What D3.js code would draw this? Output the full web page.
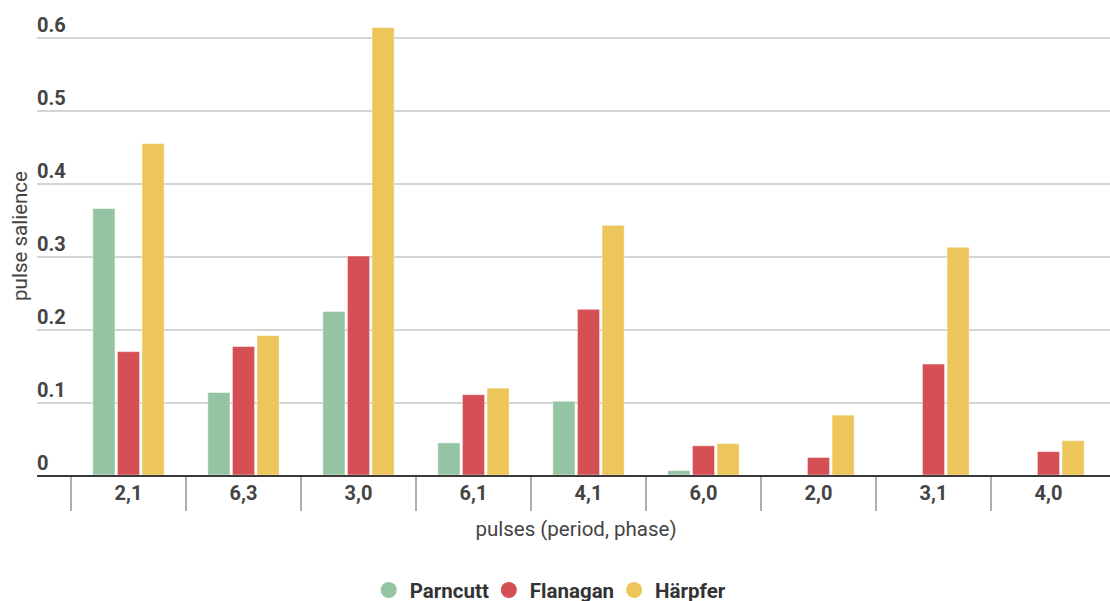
<!DOCTYPE html>
<html>
<head>
<meta charset="utf-8">
<script src="https://cdn.jsdelivr.net/npm/d3@7"></script>
<style>
  html, body { margin: 0; padding: 0; background: #fff; }
  svg { display: block; font-family: Roboto, "Noto Sans", sans-serif; }
</style>
</head>
<body>
<svg id="chart" width="1110" height="601"></svg>
<script>
// Pulse salience per (period, phase) pulse for three models
const categories = ["2,1", "6,3", "3,0", "6,1", "4,1", "6,0", "2,0", "3,1", "4,0"];
const seriesNames = ["Parncutt", "Flanagan", "Härpfer"];
const parncutt = [0.365, 0.113, 0.224, 0.044, 0.101, 0.006, 0, 0, 0];
const flanagan = [0.169, 0.176, 0.300, 0.110, 0.227, 0.040, 0.024, 0.152, 0.032];
const harpfer  = [0.454, 0.191, 0.613, 0.119, 0.342, 0.043, 0.082, 0.312, 0.047];
const yTicks = [0, 0.1, 0.2, 0.3, 0.4, 0.5, 0.6];
const yTickLabels = ["0", "0.1", "0.2", "0.3", "0.4", "0.5", "0.6"];
const colors = ["#94c4a2", "#d55055", "#ecc65b"];

const seriesValues = [parncutt, flanagan, harpfer];
const rows = categories.map((c, i) => ({
  cat: c,
  vals: seriesNames.map((s, j) => ({ name: s, value: seriesValues[j][i], color: colors[j] }))
}));

const svg = d3.select("#chart");

const y = d3.scaleLinear().domain([0, 0.6]).range([475, 37]);
const x = d3.scaleBand().domain(categories).range([71, 1106]).padding(0);
const bw = x.bandwidth();
const x1 = d3.scaleBand().domain(seriesNames)
  .range([bw * 0.19, bw * 0.81]).paddingInner(0.1);

// gridlines + value labels
const yAxis = d3.axisLeft(y).tickValues(yTicks).tickSize(0)
  .tickFormat((d, i) => yTickLabels[i]);
const gy = svg.append("g").call(yAxis);
gy.select(".domain").remove();
gy.selectAll(".tick line").remove();
gy.selectAll(".tick").each(function(d) {
  const t = d3.select(this);
  if (d !== 0) {
    t.insert("line", "text")
      .attr("x1", 37).attr("x2", 1110)
      .attr("y1", 0.5).attr("y2", 0.5)
      .attr("stroke", "#c6c6c6").attr("stroke-width", 1.4);
  }
  t.select("text")
    .attr("x", 37).attr("dy", null).attr("y", -6)
    .attr("text-anchor", "start")
    .attr("fill", "#444").attr("font-size", 20).attr("font-weight", 700)
    .attr("font-family", "Roboto, sans-serif");
});

// bars
const groups = svg.append("g").selectAll("g").data(rows).join("g")
  .attr("transform", d => `translate(${x(d.cat)},0)`);
groups.selectAll("rect").data(d => d.vals.filter(v => v.value > 0)).join("rect")
  .attr("x", d => x1(d.name))
  .attr("width", x1.bandwidth())
  .attr("y", d => y(d.value))
  .attr("height", d => y(0) - y(d.value))
  .attr("fill", d => d.color)
  .attr("stroke", "rgba(255,255,255,0.45)")
  .attr("stroke-width", 1);

// category axis
const xAxis = d3.axisBottom(x).tickSize(0).tickPadding(10);
const gx = svg.append("g").attr("transform", "translate(0,476)").call(xAxis);
gx.select(".domain").remove();
gx.selectAll(".tick text")
  .attr("fill", "#444").attr("font-size", 20).attr("font-weight", 700)
  .attr("font-family", "Roboto, sans-serif");
gx.selectAll(".tick").append("line")
  .attr("x1", -bw / 2).attr("x2", -bw / 2)
  .attr("y1", 1).attr("y2", 35)
  .attr("stroke", "#9a9a9a").attr("stroke-width", 1.6);

svg.append("line")
  .attr("x1", 37).attr("x2", 1110)
  .attr("y1", 476).attr("y2", 476)
  .attr("stroke", "#3a3a3a").attr("stroke-width", 2);

// axis titles
svg.append("text")
  .attr("x", 576).attr("y", 536)
  .attr("text-anchor", "middle")
  .attr("fill", "#444").attr("font-size", 20.5)
  .text("pulses (period, phase)");

svg.append("text")
  .attr("transform", "translate(27,236) rotate(-90)")
  .attr("text-anchor", "middle")
  .attr("fill", "#444").attr("font-size", 20.5)
  .text("pulse salience");

// legend
const legend = svg.append("g");
let lx = 0;
seriesNames.forEach((s, i) => {
  const g = legend.append("g").attr("transform", `translate(${lx},0)`);
  g.append("circle").attr("cx", 8).attr("cy", 0).attr("r", 8).attr("fill", colors[i]);
  const t = g.append("text").attr("x", 29).attr("y", 7.5)
    .attr("fill", "#333").attr("font-size", 20.5).attr("font-weight", 700).text(s);
  lx += 29 + t.node().getComputedTextLength() + 12;
});
const lw = lx - 12;
legend.attr("transform", `translate(${553 - lw / 2},590)`);
</script>
</body>
</html>
